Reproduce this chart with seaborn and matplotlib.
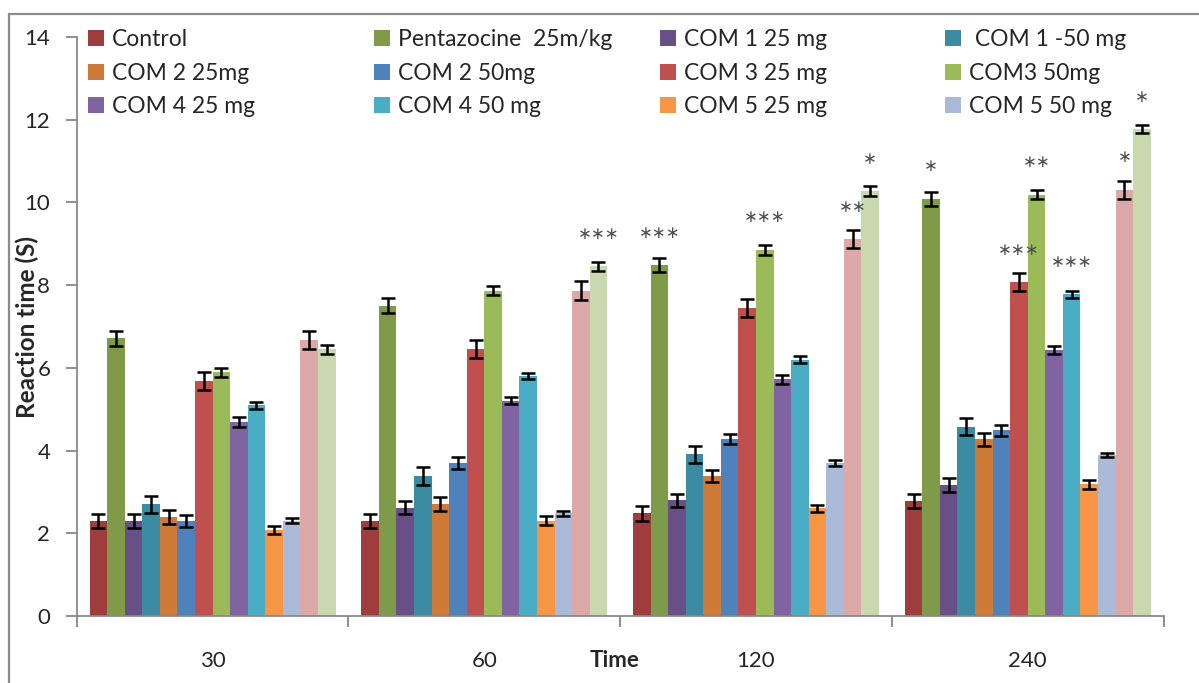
import pandas as pd
import numpy as np
import matplotlib
matplotlib.use('Agg')
import matplotlib.pyplot as plt
from matplotlib.patches import Patch
from matplotlib.lines import Line2D
import seaborn as sns

# Data
times = ['30', '60', '120', '240']
groups = ['Control', 'Pentazocine  25m/kg', 'COM 1 25 mg', ' COM 1 -50 mg',
          'COM 2 25mg', 'COM 2 50mg', 'COM 3 25 mg', 'COM3 50mg',
          'COM 4 25 mg', 'COM 4 50 mg', 'COM 5 25 mg', 'COM 5 50 mg',
          'Series13', 'Series14']
control = [2.30, 2.30, 2.48, 2.78]
pentazocine = [6.71, 7.50, 8.49, 10.09]
com1_25 = [2.30, 2.62, 2.80, 3.17]
com1_50 = [2.70, 3.39, 3.91, 4.58]
com2_25 = [2.39, 2.71, 3.38, 4.27]
com2_50 = [2.30, 3.70, 4.28, 4.49]
com3_25 = [5.68, 6.45, 7.44, 8.08]
com3_50 = [5.89, 7.87, 8.86, 10.19]
com4_25 = [4.69, 5.21, 5.72, 6.43]
com4_50 = [5.09, 5.80, 6.20, 7.78]
com5_25 = [2.08, 2.30, 2.60, 3.18]
com5_50 = [2.30, 2.48, 3.70, 3.89]
series13 = [6.67, 7.87, 9.12, 10.31]
series14 = [6.45, 8.46, 10.27, 11.77]

control_err = [0.17, 0.17, 0.18, 0.17]
pentazocine_err = [0.17, 0.18, 0.17, 0.17]
com1_25_err = [0.17, 0.16, 0.16, 0.17]
com1_50_err = [0.20, 0.22, 0.21, 0.20]
com2_25_err = [0.17, 0.17, 0.15, 0.15]
com2_50_err = [0.14, 0.15, 0.12, 0.14]
com3_25_err = [0.21, 0.22, 0.22, 0.22]
com3_50_err = [0.11, 0.12, 0.12, 0.11]
com4_25_err = [0.11, 0.09, 0.11, 0.10]
com4_50_err = [0.09, 0.08, 0.08, 0.09]
com5_25_err = [0.09, 0.11, 0.09, 0.10]
com5_50_err = [0.06, 0.07, 0.07, 0.05]
series13_err = [0.21, 0.22, 0.22, 0.22]
series14_err = [0.11, 0.11, 0.12, 0.10]

# significance marks: (time index, group index, text)
stars = [(1, 13, '***'), (2, 1, '***'), (2, 7, '***'), (2, 12, '**'), (2, 13, '*'),
         (3, 1, '*'), (3, 6, '***'), (3, 7, '**'), (3, 9, '***'), (3, 12, '*'), (3, 13, '*')]

colors = ['#9D3E3C', '#7F9A48', '#684F86', '#3B8BA2', '#CD7A39', '#4F81BD', '#C0504D',
          '#9BBB59', '#8064A2', '#4BACC6', '#F79646', '#AABAD7', '#DBA9A8', '#C9D8AE']

values = [control, pentazocine, com1_25, com1_50, com2_25, com2_50, com3_25, com3_50,
          com4_25, com4_50, com5_25, com5_50, series13, series14]
errors = [control_err, pentazocine_err, com1_25_err, com1_50_err, com2_25_err, com2_50_err,
          com3_25_err, com3_50_err, com4_25_err, com4_50_err, com5_25_err, com5_50_err,
          series13_err, series14_err]

df = pd.DataFrame([{'Time': t, 'group': g, 'value': v[i]}
                   for g, v in zip(groups, values) for i, t in enumerate(times)])

sns.set_style('ticks')
plt.rcParams['font.family'] = ['Lato', 'DejaVu Sans']

W, H = 1199, 683
fig = plt.figure(figsize=(W / 100, H / 100), dpi=100)
x0, x1, y0, y1 = 76.7, 1163.6, 616, 37
ax = fig.add_axes([x0 / W, 1 - y0 / H, (x1 - x0) / W, (y0 - y1) / H])

sns.barplot(data=df, x='Time', y='value', hue='group', order=times, hue_order=groups,
            palette=colors, saturation=1, width=0.905, errorbar=None, legend=False,
            edgecolor='none', ax=ax)
bars = list(ax.containers)

# error bars on each bar
for i, cont in enumerate(bars):
    xs = [p.get_x() + p.get_width() / 2 for p in cont]
    hs = [p.get_height() for p in cont]
    ax.errorbar(xs, hs, yerr=errors[i], fmt='none', ecolor='black',
                elinewidth=1.8, capsize=5, capthick=1.8, zorder=5)

# asterisks
for ti, gi, txt in stars:
    p = bars[gi][ti]
    ax.text(p.get_x() + p.get_width() / 2, p.get_height() + 0.78,
            txt.replace('*', '\u2217'), ha='center', va='center',
            fontsize=12, color='#505050', family='DejaVu Sans')

ax.set_ylim(0, 14)
ax.set_yticks(np.arange(0, 15, 2))
ax.set_xlim(-0.5, 3.5)
ax.set_xticks([-0.5, 0.5, 1.5, 2.5, 3.5])
ax.set_xticklabels([])
ax.set_xticks(range(len(times)), minor=True)
ax.set_xticklabels(times, minor=True)
ax.tick_params(axis='x', which='major', length=8, width=1.3, color='#878787', direction='out')
ax.tick_params(axis='x', which='minor', length=0, pad=25, labelsize=16)
ax.tick_params(axis='y', length=8, width=1.3, color='#878787', direction='out',
               pad=11, labelsize=16)
sns.despine(ax=ax)
for s in ['left', 'bottom']:
    ax.spines[s].set_color('#898989')
    ax.spines[s].set_linewidth(1.3)

ax.set_ylabel('Reaction time (S)', fontweight='bold', fontsize=17.5)
ax.yaxis.set_label_coords(-0.0345, 0.5)
ax.set_xlabel('Time', fontweight='bold', fontsize=16)
ax.xaxis.set_label_coords(0.495, -0.058)

# legend: four columns of three rows, only the first twelve series
col_x = [88, 374, 660, 945]
for c in range(4):
    idx = [c, c + 4, c + 8]
    handles = [Patch(facecolor=colors[k], edgecolor='none') for k in idx]
    fig.legend(handles, [groups[k] for k in idx], loc='upper left',
               bbox_to_anchor=(col_x[c] / W, 1 - 29 / H), frameon=False,
               borderpad=0, borderaxespad=0, fontsize=16.5, handlelength=0.7,
               handleheight=0.7, handletextpad=0.35, labelspacing=0.55)

# outer chart border
fig.add_artist(Line2D([9 / W, 9 / W], [0, 1 - 14 / H], color='#8C8C8C', lw=1.6))
fig.add_artist(Line2D([9 / W, 1], [1 - 14 / H, 1 - 14 / H], color='#8C8C8C', lw=1.6))

fig.savefig('out.png', dpi=100)
